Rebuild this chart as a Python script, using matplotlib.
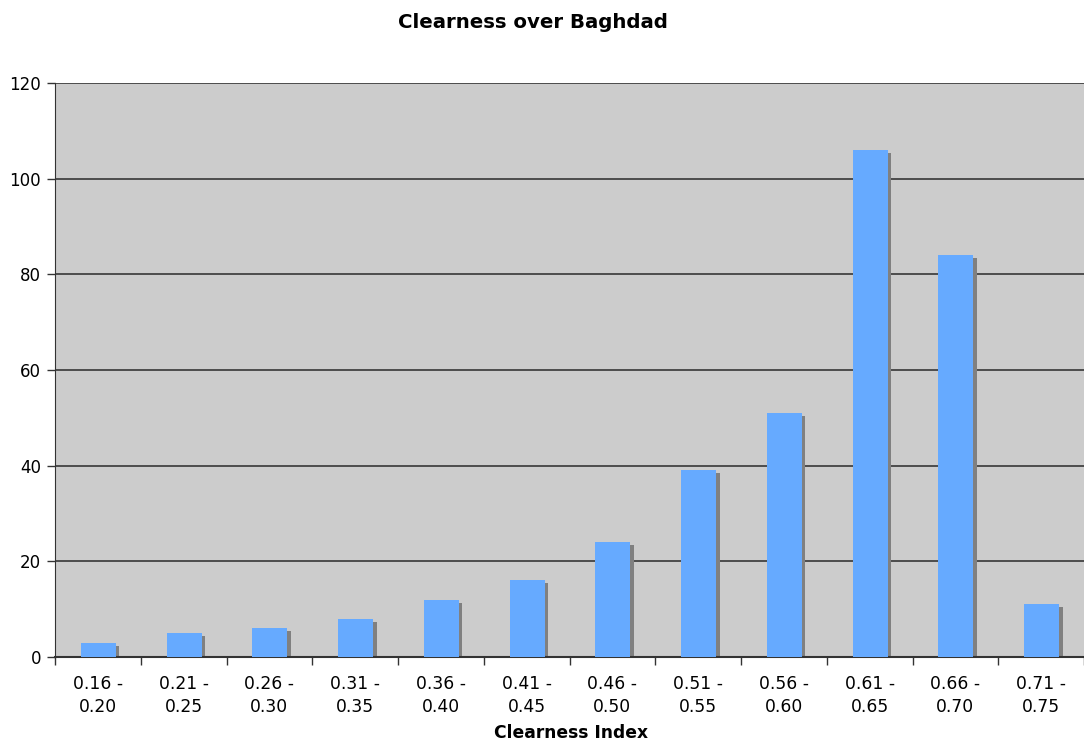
import matplotlib
matplotlib.use("Agg")
import matplotlib.pyplot as plt
import numpy as np

# Clearness index bins and number of days in each bin
bins = ["0.16 -\n0.20", "0.21 -\n0.25", "0.26 -\n0.30", "0.31 -\n0.35",
        "0.36 -\n0.40", "0.41 -\n0.45", "0.46 -\n0.50", "0.51 -\n0.55",
        "0.56 -\n0.60", "0.61 -\n0.65", "0.66 -\n0.70", "0.71 -\n0.75"]
counts = [3, 5, 6, 8, 12, 16, 24, 39, 51, 106, 84, 11]
y_ticks = [0, 20, 40, 60, 80, 100, 120]

W, H = 1084, 742
fig = plt.figure(figsize=(W / 100, H / 100), dpi=100)
left, right, top, bottom = 55, 1084, 83, 657
ax = fig.add_axes([left / W, 1 - bottom / H, (right - left) / W, (bottom - top) / H])
ax.set_facecolor("#CCCCCC")

x = np.arange(len(counts))
bar_w = 0.41
# drop shadow: shifted a few pixels right and down
px_x = 12 / (right - left)
px_y = 120 / (bottom - top)
ax.bar(x + 4 * px_x, np.array(counts) - 3 * px_y, width=bar_w, color="#808080",
       zorder=2, linewidth=0)
ax.bar(x + 0.5 * px_x, counts, width=bar_w, color="#66AAFF", zorder=3, linewidth=0)

ax.set_xlim(-0.5, len(counts) - 0.5)
ax.set_ylim(0, 120)
ax.set_yticks(y_ticks)
ax.yaxis.grid(True, color="#2a2a2a", linewidth=1.1, zorder=1)
ax.set_axisbelow(True)

# category labels centred, tick marks between categories
ax.set_xticks(x)
ax.set_xticklabels(bins, fontsize=12.3, linespacing=1.35)
ax.tick_params(axis="x", length=0, pad=13)
ax.set_xticks(np.arange(-0.5, len(counts), 1.0), minor=True)
ax.tick_params(axis="x", which="minor", length=6, width=1, color="#333333")
ax.tick_params(axis="y", length=6, width=1, color="#333333", labelsize=12, pad=4)

for s in ["top", "right"]:
    ax.spines[s].set_visible(False)
ax.spines["left"].set_color("#333333")
ax.spines["bottom"].set_color("#333333")
ax.spines["bottom"].set_linewidth(1.5)

fig.text(533 / W, 1 - 22 / H, "Clearness over Baghdad", ha="center", va="center",
         fontsize=14.2, fontweight="bold")
fig.text(571 / W, 1 - 733 / H, "Clearness Index", ha="center", va="center",
         fontsize=12.3, fontweight="bold")

fig.savefig("out.png", dpi=100)
